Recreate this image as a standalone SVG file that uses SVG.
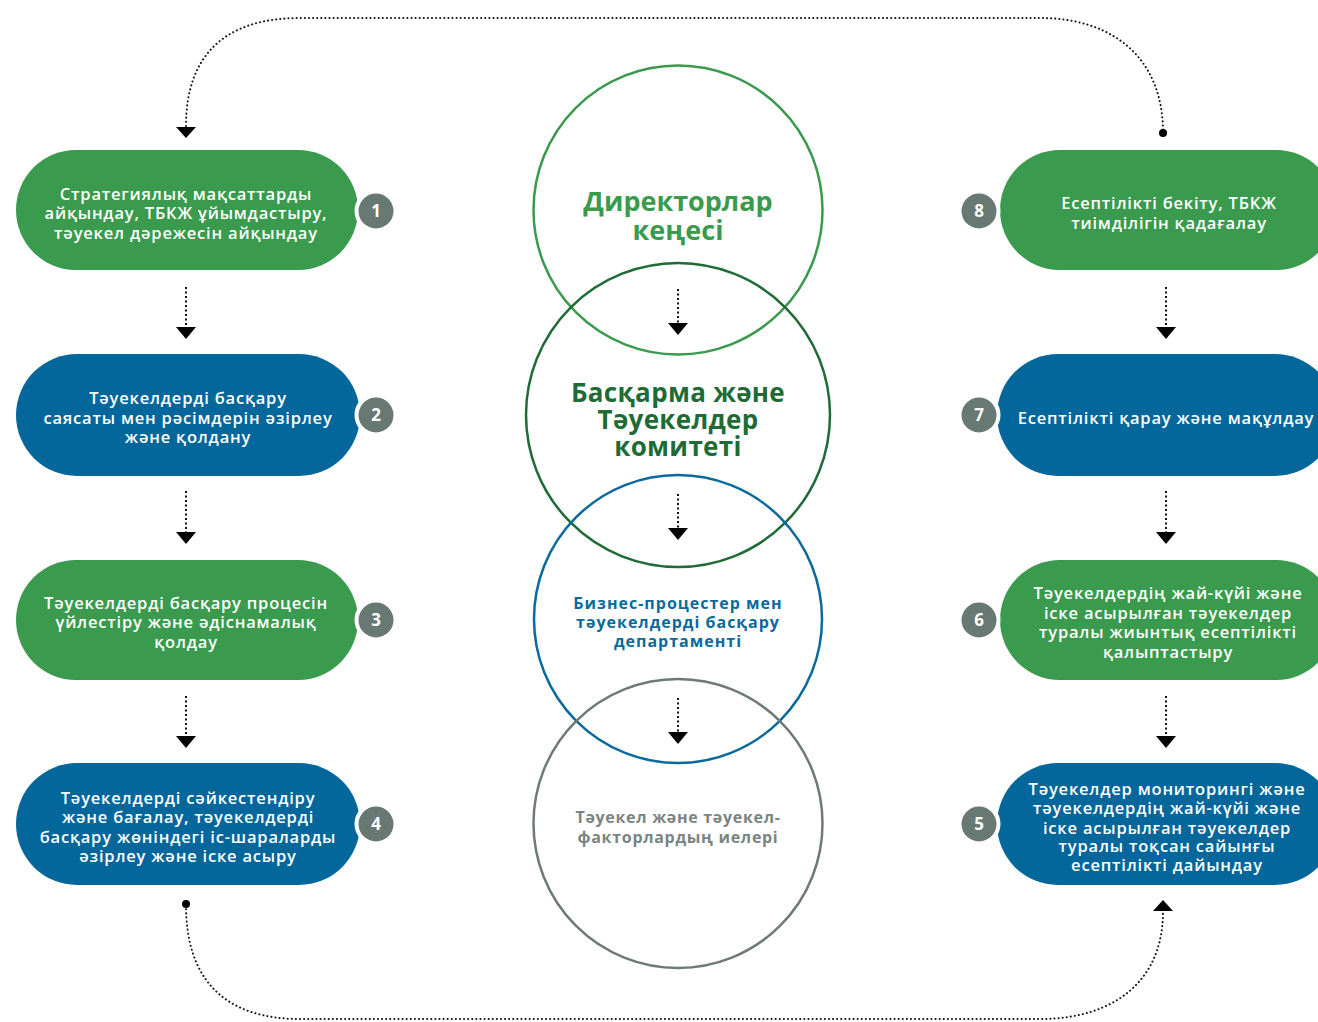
<svg xmlns="http://www.w3.org/2000/svg" width="1318" height="1022" viewBox="0 0 1318 1022">
<defs>
<style>
.pill-g{fill:#3a9a4d}
.pill-b{fill:#03679b}
.pt{font-family:"Open Sans","Liberation Sans",sans-serif;font-weight:600;font-size:16.5px;letter-spacing:0.8px;fill:#fff;text-anchor:middle}
.badge{fill:#687872;stroke:#fff;stroke-width:4}
.bn{font-family:"Open Sans","Liberation Sans",sans-serif;font-weight:700;font-size:17px;fill:#fff;text-anchor:middle}
.dot{fill:none;stroke:#111;stroke-width:2;stroke-dasharray:0.1 4;stroke-linecap:round}
.sdot{fill:none;stroke:#111;stroke-width:2;stroke-dasharray:2 2.5}
.ah{fill:#000}
.ct{font-family:"Open Sans","Liberation Sans",sans-serif;font-weight:700;text-anchor:middle}
</style>
</defs>
<rect width="1318" height="1022" fill="#fff"/>

<g id="circles">
<g id="c1"><circle cx="678" cy="210" r="144.5" fill="none" stroke="#3a9a4d" stroke-width="2.5"/>
<text class="ct" x="678" y="211" font-size="27" fill="#3a9a4d">Директорлар</text>
<text class="ct" x="678" y="240" font-size="27" fill="#3a9a4d">кеңесі</text></g>
<g id="c2"><circle cx="678" cy="415" r="152" fill="none" stroke="#1e6b35" stroke-width="2.5"/>
<text class="ct" x="678" y="402" font-size="26" letter-spacing="0.3" fill="#1e6b35">Басқарма және</text>
<text class="ct" x="678" y="429" font-size="26" letter-spacing="0.3" fill="#1e6b35">Тәуекелдер</text>
<text class="ct" x="678" y="456" font-size="26" letter-spacing="0.3" fill="#1e6b35">комитеті</text></g>
<g id="c3"><circle cx="678" cy="619" r="144" fill="none" stroke="#0a6a9e" stroke-width="2.5"/>
<text class="ct" x="678" y="609" font-size="16" letter-spacing="1" fill="#0a6a9e">Бизнес-процестер мен</text>
<text class="ct" x="678" y="628" font-size="16" letter-spacing="1" fill="#0a6a9e">тәуекелдерді басқару</text>
<text class="ct" x="678" y="647" font-size="16" letter-spacing="1" fill="#0a6a9e">департаменті</text></g>
<g id="c4"><circle cx="678" cy="823.5" r="144.5" fill="none" stroke="#6e7a75" stroke-width="2.5"/>
<text class="ct" x="678" y="823" font-size="16" letter-spacing="0.7" fill="#7a8580" font-weight="600">Тәуекел және тәуекел-</text>
<text class="ct" x="678" y="843" font-size="16" letter-spacing="0.7" fill="#7a8580" font-weight="600">факторлардың иелері</text></g>
</g>

<g id="n1"><rect class="pill-g" x="16" y="150" width="342" height="120" rx="60"/>
<circle class="badge" cx="376" cy="211" r="19.5"/><text class="bn" x="376" y="217">1</text>
<text class="pt" x="186" y="200">Стратегиялық мақсаттарды</text>
<text class="pt" x="186" y="219">айқындау, ТБКЖ ұйымдастыру,</text>
<text class="pt" x="186" y="239">тәуекел дәрежесін айқындау</text></g>

<g id="n2"><rect class="pill-b" x="16" y="354" width="344" height="122" rx="61"/>
<circle class="badge" cx="376" cy="415" r="19.5"/><text class="bn" x="376" y="421">2</text>
<text class="pt" x="188" y="404">Тәуекелдерді басқару</text>
<text class="pt" x="188" y="424">саясаты мен рәсімдерін әзірлеу</text>
<text class="pt" x="188" y="443">және қолдану</text></g>

<g id="n3"><rect class="pill-g" x="16" y="560" width="342" height="120" rx="60"/>
<circle class="badge" cx="376" cy="620" r="19.5"/><text class="bn" x="376" y="626">3</text>
<text class="pt" x="186" y="609">Тәуекелдерді басқару процесін</text>
<text class="pt" x="186" y="628">үйлестіру және әдіснамалық</text>
<text class="pt" x="186" y="648">қолдау</text></g>

<g id="n4"><rect class="pill-b" x="16" y="763" width="344" height="122" rx="61"/>
<circle class="badge" cx="376" cy="824" r="19.5"/><text class="bn" x="376" y="830">4</text>
<text class="pt" x="188" y="804">Тәуекелдерді сәйкестендіру</text>
<text class="pt" x="188" y="823">және бағалау, тәуекелдерді</text>
<text class="pt" x="188" y="843">басқару жөніндегі іс-шараларды</text>
<text class="pt" x="188" y="862">әзірлеу және іске асыру</text></g>

<g id="n8"><rect class="pill-g" x="1000" y="150" width="336" height="120" rx="60"/>
<circle class="badge" cx="979" cy="211" r="19.5"/><text class="bn" x="979" y="217">8</text>
<text class="pt" x="1169" y="209">Есептілікті бекіту, ТБКЖ</text>
<text class="pt" x="1169" y="229">тиімділігін қадағалау</text></g>

<g id="n7"><rect class="pill-b" x="997" y="354" width="339" height="122" rx="61"/>
<circle class="badge" cx="979" cy="415" r="19.5"/><text class="bn" x="979" y="421">7</text>
<text class="pt" x="1166" y="424">Есептілікті қарау және мақұлдау</text></g>

<g id="n6"><rect class="pill-g" x="1000" y="560" width="336" height="120" rx="60"/>
<circle class="badge" cx="979" cy="620" r="19.5"/><text class="bn" x="979" y="626">6</text>
<text class="pt" x="1168" y="599">Тәуекелдердің жай-күйі және</text>
<text class="pt" x="1168" y="619">іске асырылған тәуекелдер</text>
<text class="pt" x="1168" y="638">туралы жиынтық есептілікті</text>
<text class="pt" x="1168" y="658">қалыптастыру</text></g>

<g id="n5"><rect class="pill-b" x="997" y="763" width="339" height="122" rx="61"/>
<circle class="badge" cx="979" cy="824" r="19.5"/><text class="bn" x="979" y="830">5</text>
<text class="pt" x="1167" y="795">Тәуекелдер мониторингі және</text>
<text class="pt" x="1167" y="814">тәуекелдердің жай-күйі және</text>
<text class="pt" x="1167" y="834">іске асырылған тәуекелдер</text>
<text class="pt" x="1167" y="852">туралы тоқсан сайынғы</text>
<text class="pt" x="1167" y="871">есептілікті дайындау</text></g>

<g id="connectors">
<path class="dot" d="M186,126 C186,55 225,18 300,18 L1040,18 C1115,18 1163,60 1163,132"/>
<circle cx="1163" cy="133" r="4" fill="#000"/>
<polygon class="ah" points="176,127 196,127 186,138"/>
<path class="dot" d="M186,905 C186,980 225,1019 300,1019 L1040,1019 C1115,1019 1163,980 1163,912"/>
<circle cx="186" cy="904" r="4" fill="#000"/>
<polygon class="ah" points="1153,911 1173,911 1163,900"/>

<path class="sdot" d="M186,287 V327"/><polygon class="ah" points="176,327 196,327 186,339"/>
<path class="sdot" d="M186,491 V532"/><polygon class="ah" points="176,532 196,532 186,544"/>
<path class="sdot" d="M186,696 V736"/><polygon class="ah" points="176,736 196,736 186,748"/>
<path class="sdot" d="M1166,287 V327"/><polygon class="ah" points="1156,327 1176,327 1166,339"/>
<path class="sdot" d="M1166,491 V532"/><polygon class="ah" points="1156,532 1176,532 1166,544"/>
<path class="sdot" d="M1166,696 V736"/><polygon class="ah" points="1156,736 1176,736 1166,748"/>
<path class="sdot" d="M678,289 V323"/><polygon class="ah" points="668,323 688,323 678,335"/>
<path class="sdot" d="M678,494 V528"/><polygon class="ah" points="668,528 688,528 678,540"/>
<path class="sdot" d="M678,698 V732"/><polygon class="ah" points="668,732 688,732 678,744"/>
</g>
</svg>
